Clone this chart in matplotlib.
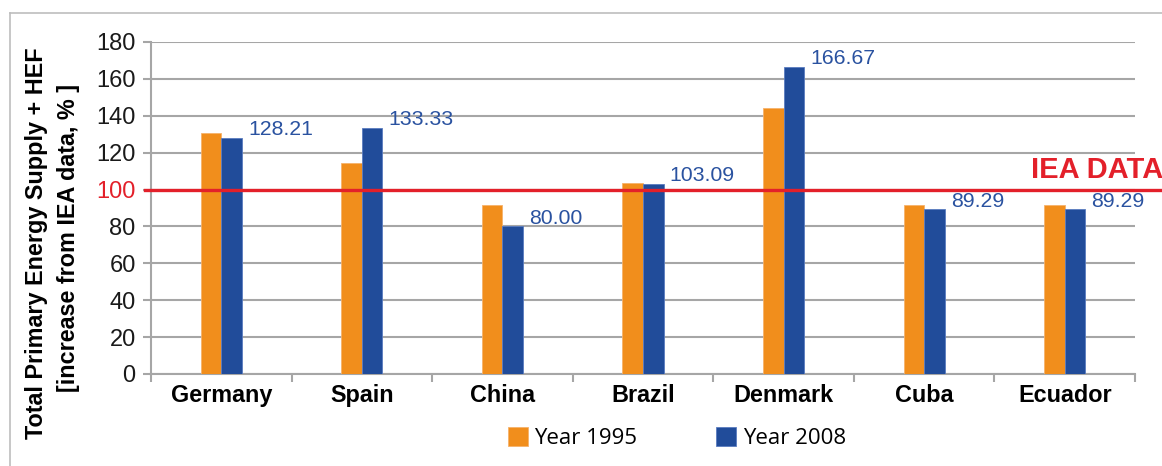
import matplotlib
matplotlib.use("Agg")
import matplotlib.pyplot as plt
import matplotlib.transforms as mtransforms
from matplotlib.lines import Line2D
import numpy as np

countries = ["Germany", "Spain", "China", "Brazil", "Denmark", "Cuba", "Ecuador"]
year_1995 = [130.8, 114.2, 91.6, 103.3, 144.0, 91.4, 91.4]
year_2008 = [128.21, 133.33, 80.00, 103.09, 166.67, 89.29, 89.29]
yticks = [0, 20, 40, 60, 80, 100, 120, 140, 160, 180]
iea_level = 100

ORANGE = "#F18E1C"
BLUE = "#214C9A"
RED = "#E3202A"
GRID = "#A6A6A6"

plt.rcParams['font.family'] = ['Liberation Sans', 'DejaVu Sans']

fig = plt.figure(figsize=(11.62, 4.66), dpi=100)
W, H = 1162, 466
ax = fig.add_axes([151 / W, 1 - 374 / H, (1135 - 151) / W, (374 - 42) / H])

x = np.arange(len(countries))
bw = 0.146
b1 = ax.bar(x - bw / 2, year_1995, bw, color=ORANGE, edgecolor="#F6B26B", linewidth=0.6, label="Year 1995", zorder=3)
b2 = ax.bar(x + bw / 2, year_2008, bw, color=BLUE, edgecolor="#5A7CC0", linewidth=0.6, label="Year 2008", zorder=3)

ax.set_xlim(-0.5, len(countries) - 0.5)
ax.set_ylim(0, 180)
ax.set_yticks(yticks)
ax.set_yticklabels([str(v) for v in yticks], fontsize=17, color="#1A1A1A")
for lbl, v in zip(ax.get_yticklabels(), yticks):
    if v == iea_level:
        lbl.set_color(RED)
ax.set_xticks(x)
ax.set_xticklabels(countries, fontsize=16.8, fontweight="bold")
ax.set_xticks(np.arange(len(countries) + 1) - 0.5, minor=True)
ax.tick_params(axis="x", which="major", length=0, pad=7)
ax.tick_params(axis="x", which="minor", length=6, color=GRID, width=1.5)
ax.tick_params(axis="y", length=6, color=GRID, width=1.5, pad=5)

ax.grid(axis="y", color=GRID, linewidth=1.5, zorder=0)
ax.set_axisbelow(True)
for s in ["top", "right"]:
    ax.spines[s].set_visible(False)
for s in ["left", "bottom"]:
    ax.spines[s].set_color(GRID)
    ax.spines[s].set_linewidth(1.5)

# value labels on 2008 bars
for xi, v in zip(x, year_2008):
    ax.annotate(f"{v:.2f}", xy=(xi + bw, v), xytext=(4.5, 2), textcoords="offset points",
                ha="left", va="baseline", fontsize=15.3, color="#2A52A0", zorder=4)

# IEA reference line
trans = mtransforms.blended_transform_factory(ax.transAxes, ax.transData)
ax.add_line(Line2D([-0.006, 1.04], [iea_level, iea_level], transform=trans, color=RED,
                   linewidth=2.4, clip_on=False, zorder=5))
ax.text(0.8945, iea_level + 3, "IEA DATA", transform=trans, color=RED, fontsize=21,
        fontweight="bold", ha="left", va="bottom", clip_on=False)

# y label
fig.text(37 / W, 1 - 243 / H, "Total Primary Energy Supply + HEF", rotation=90,
         fontsize=16.8, fontweight="bold", ha="center", va="center")
fig.text(69 / W, 1 - 238 / H, "[increase from IEA data, % ]", rotation=90,
         fontsize=16.8, fontweight="bold", ha="center", va="center")

# legend
leg = fig.legend(handles=[b1, b2], loc="center", bbox_to_anchor=(677 / W, 1 - 438 / H), ncol=2,
                 frameon=False, handlelength=0.9, handleheight=0.9, handletextpad=0.3,
                 columnspacing=3.55, prop={"family": "Open Sans", "size": 16})

# outer border
fig.add_artist(Line2D([10 / W, 10 / W], [0, 1 - 13 / H], transform=fig.transFigure, color="#BDBDBD", linewidth=1.2))
fig.add_artist(Line2D([10 / W, 1], [1 - 13 / H, 1 - 13 / H], transform=fig.transFigure, color="#BDBDBD", linewidth=1.2))

fig.savefig("out.png", dpi=100)
